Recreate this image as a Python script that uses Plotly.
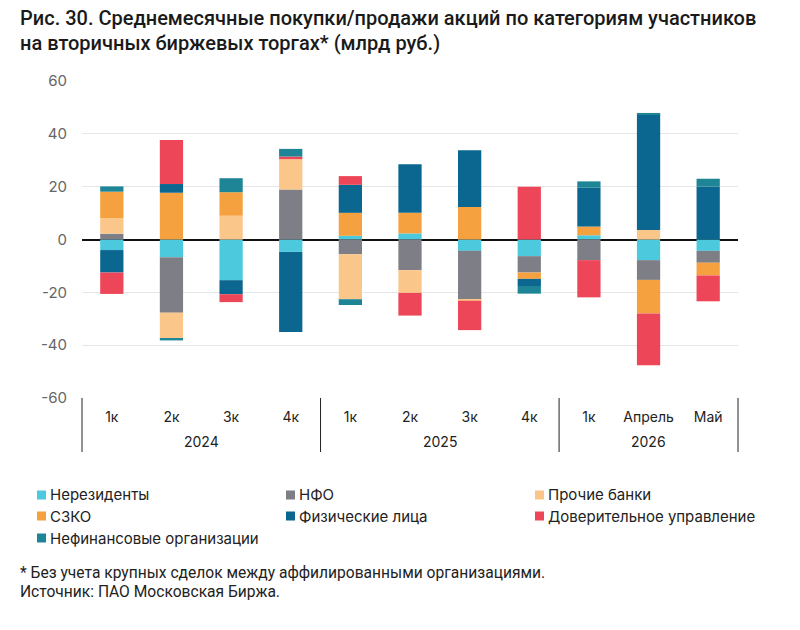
import plotly.graph_objects as go

years = ["2024"] * 4 + ["2025"] * 4 + ["2026"] * 3
periods = ["1к", "2к", "3к", "4к", "1к", "2к", "3к", "4к", "1к", "Апрель", "Май"]

series_names = ["Нерезиденты", "НФО", "Прочие банки", "СЗКО",
                "Физические лица", "Доверительное управление",
                "Нефинансовые организации"]
colors = ["#4DC9DD", "#7E7F86", "#FBC689", "#F5A13F",
          "#0B6690", "#EC4658", "#1E8596"]

nonres   = [-4.0, -6.7, -15.4, -4.7, 1.4, 2.3, -4.3, -6.3, 1.6, -7.8, -4.3]
nfo      = [2.2, -21.0, 0.0, 18.9, -5.6, -11.6, -18.4, -6.2, -7.8, -7.5, -4.5]
banks    = [5.9, -9.6, 9.0, 11.5, -17.0, -8.6, -0.5, 0.0, 0.0, 3.6, 0.0]
szko     = [10.0, 17.7, 8.9, 0.0, 8.7, 7.8, 12.3, -2.4, 3.3, -12.7, -4.8]
persons  = [-8.5, 3.3, -5.3, -30.3, 10.6, 18.4, 21.5, -2.7, 14.7, 43.9, 20.0]
trust    = [-8.1, 16.7, -3.0, 1.0, 3.3, -8.6, -11.1, 20.0, -14.1, -19.6, -9.8]
nonfin   = [2.0, -0.9, 5.3, 2.9, -2.2, 0.0, 0.0, -2.9, 2.4, 0.4, 3.0]

values = [nonres, nfo, banks, szko, persons, trust, nonfin]

y_ticks = [-60, -40, -20, 0, 20, 40, 60]
y_ticktext = [str(v) for v in y_ticks]

categories = [f"{y} {p}" for y, p in zip(years, periods)]
n = len(categories)

FONT = "Inter"

# plot area in pixels
L, R, T, B = 82, 738, 81, 398
PW, PH = R - L, B - T


def px(xp):
    return (xp - L) / PW


def py(yp):
    return (B - yp) / PH


fig = go.Figure()
for name, col, vals in zip(series_names, colors, values):
    fig.add_trace(go.Bar(
        x=categories, y=vals, name=name,
        marker=dict(color=col, line=dict(width=0)),
        showlegend=False,
    ))

fig.update_layout(
    width=800, height=630,
    barmode="relative", bargap=0.61,
    paper_bgcolor="white", plot_bgcolor="white",
    margin=dict(l=L, r=800 - R, t=T, b=630 - B),
    font=dict(family=FONT, size=13, color="#222"),
    showlegend=False,
)

fig.update_yaxes(
    range=[-60, 60], tickvals=y_ticks, ticktext=y_ticktext,
    showgrid=True, gridcolor="#E6E6E6", gridwidth=1,
    zeroline=True, zerolinecolor="#111", zerolinewidth=1.5,
    tickfont=dict(family=FONT, size=15, color="#666"),
    ticks="", ticklabelstandoff=14, showline=False,
)
fig.update_xaxes(
    type="category", range=[-0.5, n - 0.5],
    tickvals=categories, ticktext=periods,
    showgrid=False, ticks="",
    tickfont=dict(family=FONT, size=14, color="#222"),
    tickangle=0, ticklabelstandoff=9,
    showline=False,
)

# year group labels and dividers
groups = []
for i, y in enumerate(years):
    if not groups or groups[-1][0] != y:
        groups.append([y, i, i])
    else:
        groups[-1][2] = i
for y, i0, i1 in groups:
    fig.add_annotation(
        text=y, xref="x", yref="paper", x=(i0 + i1) / 2, y=py(441),
        xanchor="center", yanchor="middle", showarrow=False,
        font=dict(family=FONT, size=14, color="#222"),
    )
bounds = [groups[0][1] - 0.5] + [g[2] + 0.5 for g in groups]
for b in bounds:
    xb = (b + 0.5) / n
    fig.add_shape(
        type="line", xref="paper", yref="paper",
        x0=xb, x1=xb, y0=py(398), y1=py(452),
        line=dict(color="#222", width=1),
    )

# title
title_lines = ["Рис. 30. Среднемесячные покупки/продажи акций по категориям участников",
               "на вторичных биржевых торгах* (млрд руб.)"]
for line, yc in zip(title_lines, [18, 43]):
    fig.add_annotation(
        text=line, xref="paper", yref="paper", x=px(18), y=py(yc),
        xanchor="left", yanchor="middle", showarrow=False,
        font=dict(family="Roboto", size=20, color="#1a1a1a", weight=500),
    )

# legend (manual, 3 columns)
col_x = [37, 286, 535]
row_y = [495, 516, 538]
for i, (name, col) in enumerate(zip(series_names, colors)):
    cx = col_x[i % 3]
    cy = row_y[i // 3]
    fig.add_shape(
        type="rect", xref="paper", yref="paper",
        x0=px(cx), x1=px(cx + 9), y0=py(cy + 4.5), y1=py(cy - 4.5),
        fillcolor=col, line=dict(width=0),
    )
    fig.add_annotation(
        text=name, xref="paper", yref="paper", x=px(cx + 11), y=py(cy),
        xanchor="left", yanchor="middle", showarrow=False,
        font=dict(family=FONT, size=15, color="#222"),
    )

fig.add_annotation(
    text="* Без учета крупных сделок между аффилированными организациями.",
    xref="paper", yref="paper", x=px(18), y=py(573),
    xanchor="left", yanchor="middle", showarrow=False,
    font=dict(family="Roboto", size=15.6, color="#222"),
)
fig.add_annotation(
    text="Источник: ПАО Московская Биржа.",
    xref="paper", yref="paper", x=px(18), y=py(592),
    xanchor="left", yanchor="middle", showarrow=False,
    font=dict(family="Roboto", size=15.6, color="#222"),
)

fig.write_html("out.html")
